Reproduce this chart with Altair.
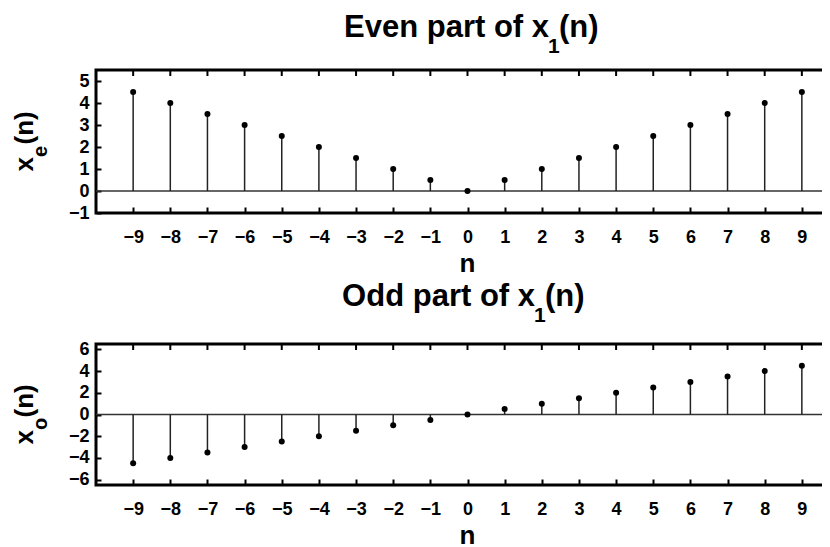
import altair as alt
import pandas as pd

# ---- data ----
n_values = list(range(-9, 10))
even_values = [4.5, 4.0, 3.5, 3.0, 2.5, 2.0, 1.5, 1.0, 0.5, 0.0,
               0.5, 1.0, 1.5, 2.0, 2.5, 3.0, 3.5, 4.0, 4.5]
odd_values = [-4.5, -4.0, -3.5, -3.0, -2.5, -2.0, -1.5, -1.0, -0.5, 0.0,
              0.5, 1.0, 1.5, 2.0, 2.5, 3.0, 3.5, 4.0, 4.5]
x_ticks = list(range(-9, 10))
even_y_ticks = [-1, 0, 1, 2, 3, 4, 5]
odd_y_ticks = [-6, -4, -2, 0, 2, 4, 6]
n_domain = [-10, 10]
even_domain = [-1, 5.5]
odd_domain = [-6.5, 6.5]

FONT = "Liberation Sans"
W = 743
H1, H2 = 143, 141
GAP = 131

one = pd.DataFrame({"k": [0]})


def txt(s, x, y, size, align="left", angle=0):
    return alt.Chart(one).mark_text(
        text=s, font=FONT, fontSize=size, fontWeight="bold", color="black",
        align=align, baseline="alphabetic", angle=angle
    ).encode(x=alt.value(x), y=alt.value(y))


def panel(values, ydomain, yticks, H, word, sub_y_letter, title_end, title_base, sub_drop):
    df = pd.DataFrame({"n": n_values, "v": values})
    xt = pd.DataFrame({"n": x_ticks})
    yt = pd.DataFrame({"t": yticks})
    xs = alt.Scale(domain=n_domain, nice=False, zero=False)
    ys = alt.Scale(domain=ydomain, nice=False, zero=False)

    x_axis = alt.Axis(orient="bottom", values=x_ticks, domain=False, offset=-6,
                      tickSize=6, tickWidth=2, tickColor="black",
                      labelFont=FONT, labelFontSize=18, labelFontWeight="bold",
                      labelColor="black", labelPadding=15, labelFlush=False,
                      labelOverlap=False, grid=False, title=None)
    y_axis = alt.Axis(orient="left", values=yticks, domain=False, offset=-5,
                      tickSize=5, tickWidth=2, tickColor="black",
                      labelFont=FONT, labelFontSize=18, labelFontWeight="bold",
                      labelColor="black", labelPadding=7, labelFlush=False,
                      labelOverlap=False, grid=False, title=None)

    zero = alt.Chart(one).mark_rule(color="#333333", strokeWidth=1.5).encode(
        y=alt.Y(datum=0, type="quantitative", scale=ys, axis=y_axis)
    )
    stems = alt.Chart(df).mark_rule(color="#222222", strokeWidth=1.5).encode(
        x=alt.X("n:Q", scale=xs, axis=x_axis),
        y=alt.Y("v:Q", scale=ys, axis=y_axis),
        y2=alt.Y2(datum=0),
    )
    dots = alt.Chart(df).mark_circle(color="black", size=36, opacity=1).encode(
        x=alt.X("n:Q", scale=xs, axis=x_axis),
        y=alt.Y("v:Q", scale=ys, axis=y_axis),
    )
    top_ticks = alt.Chart(xt).mark_rule(color="black", strokeWidth=2).encode(
        x=alt.X("n:Q", scale=xs, axis=x_axis),
        y=alt.value(0), y2=alt.value(6),
    )
    right_ticks = alt.Chart(yt).mark_rule(color="black", strokeWidth=2).encode(
        y=alt.Y("t:Q", scale=ys, axis=y_axis),
        x=alt.value(W - 5), x2=alt.value(W),
    )

    c = H / 2
    texts = [
        txt(word + " part of x", title_end, title_base, 31, align="right"),
        txt("1", title_end - 1, title_base + sub_drop, 21),
        txt("(n)", title_end + 10, title_base, 31),
        txt("n", W / 2, H + 59, 26, align="center"),
        txt("x", -63, c + 30, 26, angle=270),
        txt(sub_y_letter, -49, c + 15.5, 20, angle=270),
        txt("(n)", -63, c + 3, 26, angle=270),
    ]
    return alt.layer(zero, stems, dots, top_ticks, right_ticks, *texts).properties(
        width=W, height=H
    )


top = panel(even_values, even_domain, even_y_ticks, H1, "Even", "e", 453, -33, 16)
bottom = panel(odd_values, odd_domain, odd_y_ticks, H2, "Odd", "o", 439, -38, 16)

chart = alt.vconcat(top, bottom, spacing=GAP, bounds="flush").properties(
    autosize=alt.AutoSizeParams(type="none"),
    padding={"left": 88, "top": 62, "right": -17, "bottom": 477},
).configure(background="white").configure_view(
    stroke="black", strokeWidth=3
)

chart.save("out.html", embed_options={"renderer": "svg", "actions": False})
